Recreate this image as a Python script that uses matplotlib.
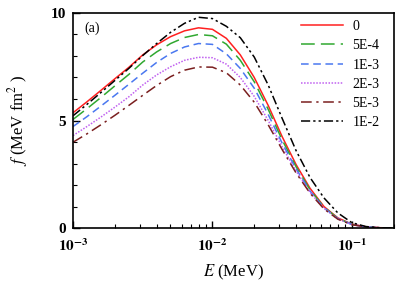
import matplotlib
matplotlib.use('Agg')
import matplotlib.pyplot as plt
import numpy as np
from matplotlib.ticker import FixedLocator, NullFormatter

plt.rcParams['font.family'] = 'Liberation Serif'
plt.rcParams['mathtext.fontset'] = 'stix'

# log10(E) grid, E in MeV
logE = [-3.0, -2.9, -2.8, -2.7, -2.6, -2.5, -2.4, -2.3, -2.2, -2.1, -2.0, -1.9,
        -1.8, -1.7, -1.6, -1.5, -1.4, -1.3, -1.2, -1.1, -1.0, -0.9, -0.8, -0.7]

f_0 = [5.36, 5.87, 6.40, 6.94, 7.47, 8.05, 8.52, 8.90, 9.17, 9.31, 9.24, 8.82,
       8.05, 7.00, 5.70, 4.25, 2.95, 1.85, 1.00, 0.47, 0.18, 0.06, 0.015, 0.003]
f_5e4 = [5.05, 5.55, 6.07, 6.61, 7.14, 7.72, 8.19, 8.58, 8.86, 9.00, 8.94, 8.55,
         7.80, 6.80, 5.52, 4.10, 2.85, 1.78, 0.97, 0.45, 0.17, 0.055, 0.014, 0.003]
f_1e3 = [4.72, 5.18, 5.67, 6.17, 6.68, 7.20, 7.70, 8.12, 8.42, 8.58, 8.54, 8.10,
         7.42, 6.50, 5.28, 3.95, 2.75, 1.72, 0.94, 0.44, 0.165, 0.053, 0.013, 0.003]
f_2e3 = [4.30, 4.72, 5.16, 5.62, 6.10, 6.65, 7.12, 7.50, 7.80, 7.94, 7.92, 7.62,
         7.00, 6.12, 5.00, 3.78, 2.65, 1.66, 0.91, 0.42, 0.16, 0.05, 0.012, 0.003]
f_5e3 = [3.99, 4.38, 4.80, 5.24, 5.70, 6.17, 6.63, 7.04, 7.34, 7.49, 7.48, 7.22,
         6.65, 5.85, 4.80, 3.65, 2.56, 1.62, 0.89, 0.41, 0.155, 0.05, 0.012, 0.003]
f_1e2 = [5.22, 5.75, 6.30, 6.86, 7.42, 8.02, 8.58, 9.10, 9.52, 9.80, 9.74, 9.38,
         8.85, 7.95, 6.65, 5.10, 3.60, 2.35, 1.40, 0.70, 0.25, 0.07, 0.015, 0.003]

labels = ['0', '5E-4', '1E-3', '2E-3', '5E-3', '1E-2']
E = 10.0 ** np.array(logE)

fig = plt.figure(figsize=(3.99, 2.95), dpi=100)
ax = fig.add_axes([0.183, 0.227, 0.804, 0.729])

ax.plot(E, f_0, color='#ff2020', lw=1.1, ls='-', label=labels[0])
ax.plot(E, f_5e4, color='#30a830', lw=1.1, ls=(0, (9, 4)), label=labels[1])
ax.plot(E, f_1e3, color='#4a78f0', lw=1.1, ls=(0, (5, 3)), label=labels[2])
ax.plot(E, f_2e3, color='#c060f0', lw=1.1, ls=(0, (1, 1)), label=labels[3])
ax.plot(E, f_5e3, color='#7a1f1f', lw=1.1, ls=(0, (7, 3, 1.5, 3)), label=labels[4])
ax.plot(E, f_1e2, color='black', lw=1.1, ls=(0, (6, 2, 1.5, 2, 1.5, 2)), label=labels[5])

ax.set_xscale('log')
ax.set_xlim(1e-3, 0.2)
ax.set_ylim(0, 10)

ax.xaxis.set_major_locator(FixedLocator([1e-3, 1e-2, 1e-1]))
ax.set_xticklabels([r'$\mathbf{10^{-3}}$', r'$\mathbf{10^{-2}}$', r'$\mathbf{10^{-1}}$'])
minors = [m * d for d in [1e-3, 1e-2, 1e-1] for m in range(2, 10) if m * d <= 0.2]
ax.xaxis.set_minor_locator(FixedLocator(minors))
ax.xaxis.set_minor_formatter(NullFormatter())

ax.set_yticks([0, 5, 10])
ax.set_yticklabels(['0', '5', '10'], fontweight='bold', fontsize=11)
ax.yaxis.set_minor_locator(FixedLocator(np.arange(0, 10, 1)))

ax.tick_params(which='both', direction='in')
ax.tick_params(which='major', length=5, width=1, labelsize=11)
ax.tick_params(which='minor', length=3, width=0.8)
ax.tick_params(axis='x', which='major', pad=7)
ax.tick_params(axis='y', which='major', pad=5)
for s in ax.spines.values():
    s.set_linewidth(1.2)

ax.set_xlabel(r'$E$ (MeV)', fontsize=12, labelpad=6)
ax.set_ylabel(r'$f$ (MeV fm$^2$ )', fontsize=12, labelpad=15)

ax.text(0.035, 0.93, '(a)', transform=ax.transAxes, fontsize=10, va='center')

ax.legend(loc='upper left', bbox_to_anchor=(0.672, 1.025), frameon=False,
          fontsize=10, handlelength=3.0, labelspacing=0.45, handletextpad=0.7)

fig.savefig('out.png', dpi=100)
